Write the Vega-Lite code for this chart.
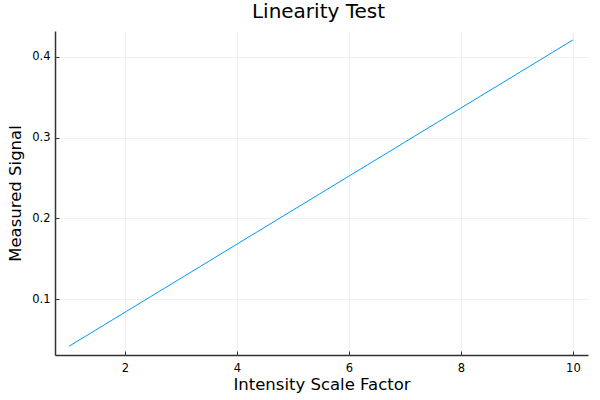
{
  "$schema": "https://vega.github.io/schema/vega-lite/v6.json",
  "width": 533,
  "height": 324,
  "autosize": "none",
  "padding": {"left": 55, "top": 31, "right": 12, "bottom": 45},
  "background": "white",
  "title": {"text": "Linearity Test", "fontSize": 20, "font": "DejaVu Sans", "fontWeight": "normal", "color": "#000000", "anchor": "middle", "dx": -3, "offset": 9},
  "data": {"values": [
    {"x": 1, "y": 0.0414}, {"x": 2, "y": 0.0836}, {"x": 3, "y": 0.1258}, {"x": 4, "y": 0.1680},
    {"x": 5, "y": 0.2102}, {"x": 6, "y": 0.2523}, {"x": 7, "y": 0.2945}, {"x": 8, "y": 0.3367},
    {"x": 9, "y": 0.3789}, {"x": 10, "y": 0.4211}
  ]},
  "mark": {"type": "line", "color": "#009AFA", "strokeWidth": 1, "clip": true},
  "encoding": {
    "x": {"field": "x", "type": "quantitative", "title": "Intensity Scale Factor",
      "scale": {"domain": [0.75, 10.27], "nice": false, "zero": false},
      "axis": {"values": [2, 4, 6, 8, 10], "format": "d"}},
    "y": {"field": "y", "type": "quantitative", "title": "Measured Signal",
      "scale": {"domain": [0.0306, 0.4322], "nice": false, "zero": false},
      "axis": {"values": [0.1, 0.2, 0.3, 0.4], "format": ".1f"}}
  },
  "config": {
    "view": {"stroke": null},
    "axis": {
      "labelFont": "DejaVu Sans", "labelFontSize": 11.5, "labelColor": "#000000",
      "titleFont": "DejaVu Sans", "titleFontSize": 16.5, "titleFontWeight": "normal", "titleColor": "#000000",
      "domainColor": "#333333", "domainWidth": 1.5,
      "tickColor": "#333333", "tickSize": -4, "tickWidth": 1,
      "gridColor": "#e6e6e6", "gridWidth": 0.6, "grid": true
    },
    "axisX": {"labelPadding": 11, "titlePadding": 3},
    "axisY": {"labelPadding": 9, "titlePadding": 8}
  }
}
